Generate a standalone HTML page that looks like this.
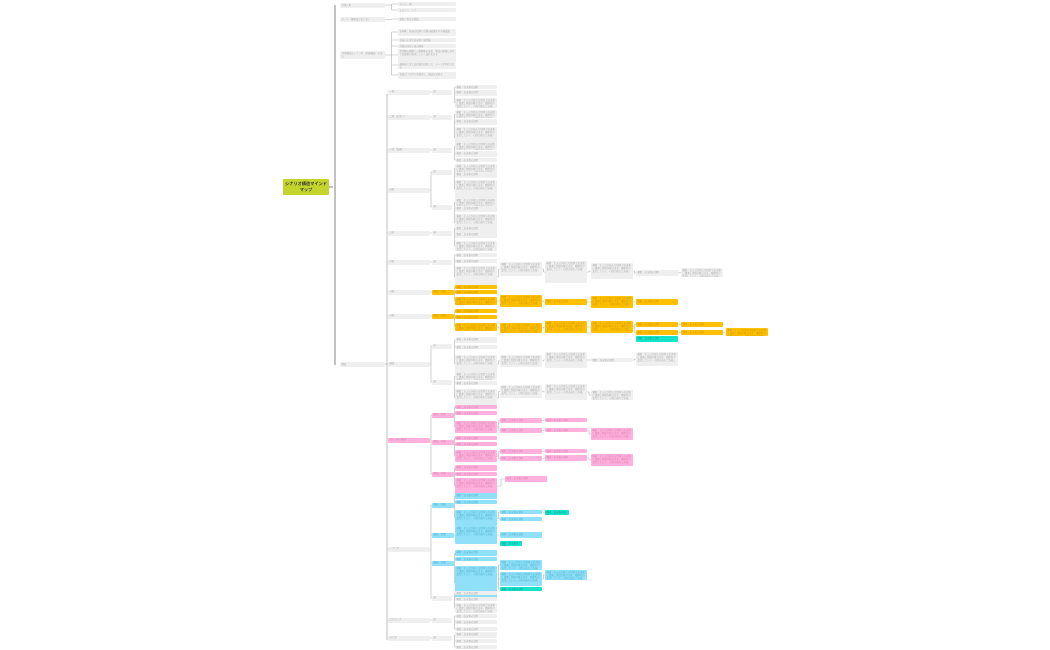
<!DOCTYPE html>
<html><head><meta charset="utf-8"><style>
body{margin:0;width:1050px;height:650px;background:#fff;position:relative;overflow:hidden;font-family:"Liberation Sans","Noto Sans CJK JP",sans-serif}
.n{position:absolute;background:#efefef;border-radius:1px;font-size:2.4px;line-height:3.4px;color:#aaa;padding:0.5px 1.5px;box-sizing:border-box;overflow:hidden}
.o{background:#ffc000;color:#c89500}.p{background:#ffb0dc;color:#d77fb0}.c{background:#14e3cc;color:#0a9e8e}.b{background:#8fe0f8;color:#4fb0cc}
.r{position:absolute;left:283px;top:179px;width:46px;height:16px;background:#c3d52c;font-size:4.2px;font-weight:bold;color:#333;text-align:center;line-height:5.5px;padding-top:2px;box-sizing:border-box;border-radius:1px}
svg{position:absolute;left:0;top:0}
</style></head><body>
<svg id="s" width="1050" height="650"><g stroke="#b0b0b0" stroke-width="0.6" fill="none" id="g">
<path d="M329 187 H333 M335 5 V365" stroke="#999" stroke-width="1.2"/>
<path d="M385 364 H387 M387 94 V640" stroke-width="0.8"/>
</g></svg>
<div class="r">シナリオ構造マインド<br>マップ</div>
<div class="n" style="left:340px;top:3px;width:45px;height:5px">登場人物</div>
<div class="n" style="left:398px;top:2px;width:58px;height:4px">主人公：朔</div>
<div class="n" style="left:398px;top:8px;width:58px;height:4px">ヒロイン：ミナ</div>
<div class="n" style="left:340px;top:17px;width:45px;height:5px">テーマ（最終章のまとめ）</div>
<div class="n" style="left:398px;top:17px;width:58px;height:4px">喪失と再生の物語</div>
<div class="n" style="left:340px;top:51px;width:45px;height:8px">12章構成のシナリオ（全編構成）の流れ</div>
<div class="n" style="left:398px;top:29px;width:58px;height:7px">全体像：各章の役割と伏線の配置を示す構成図</div>
<div class="n" style="left:398px;top:38px;width:58px;height:4px">各章の主要な出来事と感情線</div>
<div class="n" style="left:398px;top:44px;width:58px;height:4px">伏線の回収と章の関係</div>
<div class="n" style="left:398px;top:49px;width:58px;height:13px">世界観の構築と人物関係の変化、物語の終盤に向けて各要素が収束していく流れを示す</div>
<div class="n" style="left:398px;top:62px;width:58px;height:7px">最終章で全ての伏線が回収され、テーマが明示される</div>
<div class="n" style="left:398px;top:72px;width:58px;height:7px">各章のつながりを確認し、構成を見直す</div>
<div class="n" style="left:340px;top:362px;width:45px;height:5px">構成</div>
<div id="boxes"></div>
<script>
var B=document.getElementById('boxes'),G=document.getElementById('g');
var T="概要：主人公が新たな場所で出来事に遭遇し物語が動き出す。関係性が変化していく。心情の揺れと決意。";
function box(x,y,w,h,c,t){var d=document.createElement('div');d.className='n '+(c||'');d.style.cssText='left:'+x+'px;top:'+y+'px;width:'+w+'px;height:'+h+'px';d.textContent=t||(h<=6?"概要：出来事の説明":T);B.appendChild(d);return [x+w,y+h/2];}
function line(px,py,cx,ys){var mx=(px+cx)/2,s='M'+px+' '+py+' H'+mx;var mn=Math.min.apply(null,ys.concat([py])),mxY=Math.max.apply(null,ys.concat([py]));s+=' M'+mx+' '+mn+' V'+mxY;ys.forEach(function(y){s+=' M'+mx+' '+y+' H'+cx});var p=document.createElementNS('http://www.w3.org/2000/svg','path');p.setAttribute('d',s);G.appendChild(p);}
line(385,5,398,[4,10]);line(385,19.5,398,[19]);line(385,55,398,[32,40,46,55,65,75]);
var L2=[[92,'',"一章"],[117,'',"二章（出会い）"],[150,'',"三章（転機）"],[190,'',"四章"],[233,'',"五章"],[262,'',"六章"],[292,'',"七章"],[316,'',"八章"],[364,'',"構成"],[440,'p',"章と人物の関係"],[549,'',"シナリオ"],[620,'',"エピローグ"],[638,'',"まとめ"]];
L2.forEach(function(a){box(388,a[0]-2.5,42,5,a[1],a[2]);line(387,a[0],388,[a[0]]);});
var G3=[[92,92,'',[[85,4],[90,6],[98,10]]],[117,117,'',[[110,8],[119,6],[127,22]]],[150,150,'',[[142,8],[151,6],[158,4]]],
[190,172,'',[[164,8],[172,6],[180,18]]],[190,207,'',[[198,8],[206,6],[214,18]]],[233,233,'',[[226,4],[232,6],[241,10]]],
[262,262,'',[[253,4],[259,4],[266,22]]],[292,292,'o',[[285,4],[290,4],[297,8]]],[316,316,'o',[[309,4],[315,4],[323,8]]],
[364,346,'',[[337,6],[345,4],[355,18]]],[364,382,'',[[372,8],[381,4],[389,18]]],
[440,415,'p',[[405,4],[411,4],[421,12]]],[440,442,'p',[[436,4],[442,4],[450,12]]],[440,474,'p',[[465,6],[472,4],[478,16]]],
[549,505,'b',[[493,6],[500,4],[510,16]]],[549,535,'b',[[526,18]]],[549,563,'b',[[550,6],[557,4],[566,34]]],[549,598,'',[[591,4],[597,4],[603,10]]],
[620,620,'',[[614,4],[620,4],[627,4]]],[638,638,'',[[632,6],[639,4],[645,4]]]];
var L3y={};G3.forEach(function(a){(L3y[a[0]]=L3y[a[0]]||[]).push(a[1]);});
for(var k in L3y){line(430,+k,432,L3y[k]);}
G3.forEach(function(a){var c3=a[2];box(432,a[1]-2.5,c3?22:20,5,c3,c3?'構成・伏線':'章');
 var ys=[];a[3].forEach(function(q){box(455,q[0],42,q[1],a[2]);ys.push(q[0]+q[1]/2);});line(454,a[1],455,ys);});
function seq(y,items){var px=497,py=y;items.forEach(function(q){var r=box(q[0],q[1],q[2],q[3],q[4]);line(px,py,q[0],[q[1]+q[3]/2]);px=r[0];py=r[1];});}
seq(277,[[500,262,42,14,''],[545,261,42,22,''],[591,263,42,16,''],[636,270,42,6,''],[681,268,42,9,'']]);
seq(301,[[500,295,42,12,'o'],[545,299,42,6,'o'],[591,296,42,12,'o'],[636,299,42,6,'o']]);
seq(327,[[500,323,42,10,'o'],[545,321,42,12,'o'],[591,321,42,12,'o']]);
line(633,327,636,[324.5,332.5]);box(636,322,42,5,'o');box(636,330,42,5,'o');box(636,336,42,6,'c');
line(678,324.5,681,[324.5]);box(681,322,42,5,'o');line(678,332.5,681,[332.5]);box(681,330,42,5,'o');line(723,332.5,726,[332]);box(726,328,42,8,'o');
seq(364,[[500,355,42,12,''],[545,352,42,16,''],[591,358,42,4,''],[636,352,42,14,'']]);
seq(398,[[500,385,42,13,''],[545,384,42,16,''],[591,390,42,10,'']]);
line(497,427,500,[420.5,430.5]);box(500,418,42,5,'p');box(500,428,42,5,'p');line(542,420.5,545,[420]);box(545,418,42,4,'p');line(542,430.5,545,[430]);box(545,428,42,4,'p');line(587,430,591,[434]);box(591,428,42,12,'p');
line(497,456,500,[451.5,458.5]);box(500,449,42,5,'p');box(500,456,42,5,'p');line(542,451.5,545,[451]);box(545,449,42,4,'p');line(542,458.5,545,[458]);box(545,455,42,6,'p');line(587,458,591,[460]);box(591,454,42,12,'p');
line(497,486,505,[479]);box(505,476,42,6,'p');
line(497,518,500,[512,519]);box(500,510,42,4,'b');box(500,517,42,4,'b');line(542,512,545,[512.5]);box(545,510,24,5,'c');
line(497,535,500,[535]);box(500,532,42,6,'b');box(500,541,22,5,'c');
line(497,583,500,[565,579,589]);box(500,560,42,10,'b');box(500,572,42,14,'b');box(500,587,42,4,'c');line(542,579,545,[575]);box(545,570,42,10,'b');
</script>
</body></html>
